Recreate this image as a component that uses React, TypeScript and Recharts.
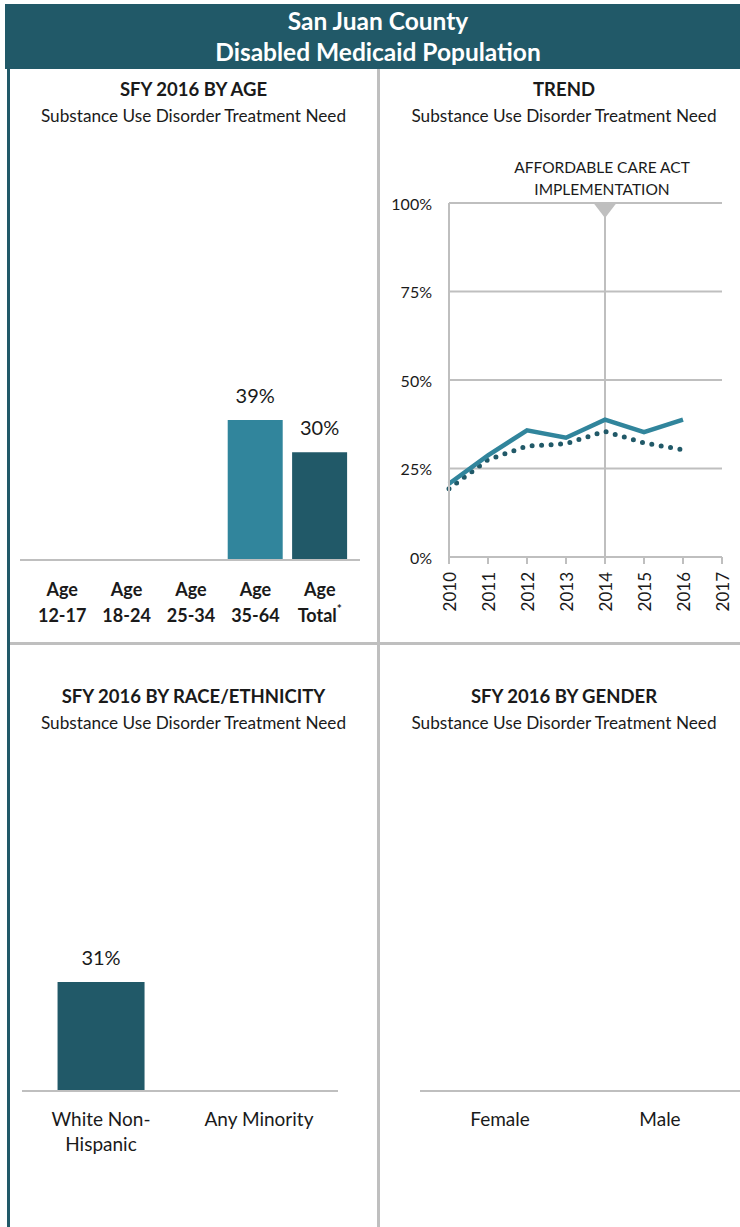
import React from 'react'
import {
  BarChart, Bar, LineChart, Line, XAxis, YAxis, CartesianGrid, ReferenceLine, LabelList, Cell,
} from 'recharts'

const FONT = 'Lato, "Open Sans", sans-serif'
const DARK = '#215968'
const TEAL = '#31859C'
const GRID = '#BFBFBF'
const INK = '#1a1a1a'

// by age
const ageGroups = ['Age 12-17', 'Age 18-24', 'Age 25-34', 'Age 35-64', 'Age Total']
const ageValues = [null, null, null, 0.39, 0.30]
const ageColors = [TEAL, TEAL, TEAL, TEAL, DARK]

// trend
const trendYears = [2010, 2011, 2012, 2013, 2014, 2015, 2016]
const trendAge3564 = [0.207, 0.287, 0.358, 0.337, 0.388, 0.353, 0.388]
const trendTotal = [0.193, 0.275, 0.313, 0.32, 0.355, 0.322, 0.303]
const yearTicks = [2010, 2011, 2012, 2013, 2014, 2015, 2016, 2017]
const pctTicks = [0, 0.25, 0.5, 0.75, 1]
const acaYear = 2014

// by race / ethnicity
const raceGroups = ['White Non-Hispanic', 'Any Minority']
const raceValues = [0.31, null]

// by gender
const genderGroups = ['Female', 'Male']
const genderValues = [null, null]

const ageData = ageGroups.map((g, i) => ({ name: g, value: ageValues[i] }))
const trendData = trendYears.map((y, i) => ({ year: y, age3564: trendAge3564[i], total: trendTotal[i] }))
const raceData = raceGroups.map((g, i) => ({ name: g, value: raceValues[i] }))
const genderData = genderGroups.map((g, i) => ({ name: g, value: genderValues[i] }))

const pct = (v: number) => `${Math.round(v * 100)}%`

const BarValue = (props: any) => {
  const { x, y, width, value } = props
  if (value == null) return null
  return (
    <text x={x + width / 2} y={y - 17} textAnchor="middle" fontFamily={FONT} fontSize={20} fill={INK}>
      {pct(value)}
    </text>
  )
}

const AgeTick = ({ x, y, payload }: any) => {
  const [first, second] = payload.value.split(' ')
  const isTotal = second === 'Total'
  return (
    <text x={x} y={y} textAnchor="middle" fontFamily={FONT} fontSize={18} fontWeight={700} fill={INK}>
      <tspan x={x} dy={28}>{first}</tspan>
      <tspan x={x} dy={26}>{second}</tspan>
      {isTotal && <tspan dy={-9} fontSize={12}>*</tspan>}
    </text>
  )
}

const WrapTick = ({ x, y, payload }: any) => {
  const label: string = payload.value
  const lines = label === 'White Non-Hispanic' ? ['White Non-', 'Hispanic'] : [label]
  return (
    <text x={x} y={y} textAnchor="middle" fontFamily={FONT} fontSize={19} fill={INK}>
      {lines.map((l, i) => (
        <tspan key={l} x={x} dy={i === 0 ? 27 : 25}>{l}</tspan>
      ))}
    </text>
  )
}

const YearTick = ({ x, y, payload }: any) => (
  <text
    x={x}
    y={y}
    transform={`rotate(-90, ${x}, ${y})`}
    textAnchor="end"
    dominantBaseline="central"
    fontFamily={FONT}
    fontSize={17}
    fill={INK}
  >
    {payload.value}
  </text>
)

const PctTick = ({ x, y, payload }: any) => (
  <text x={x} y={y} textAnchor="end" dominantBaseline="central" fontFamily={FONT} fontSize={16} fill={INK}>
    {pct(payload.value)}
  </text>
)

const AcaMarker = ({ viewBox }: any) => {
  if (!viewBox) return null
  const cx = viewBox.x
  const top = viewBox.y
  return (
    <g>
      <polygon points={`${cx - 11.5},${top} ${cx + 11.5},${top} ${cx},${top + 15}`} fill={GRID} />
      <text x={cx - 3} y={top - 30} textAnchor="middle" fontFamily={FONT} fontSize={15.5} fill={INK}>
        AFFORDABLE CARE ACT
      </text>
      <text x={cx - 3} y={top - 8} textAnchor="middle" fontFamily={FONT} fontSize={15.5} fill={INK}>
        IMPLEMENTATION
      </text>
    </g>
  )
}

const PanelTitle = ({ left, width, top, title }: { left: number; width: number; top: number; title: string }) => (
  <div style={{ position: 'absolute', left, width, top, textAlign: 'center', color: INK, fontFamily: FONT }}>
    <div style={{ fontSize: 18.5, fontWeight: 700, lineHeight: '26px' }}>{title}</div>
    <div style={{ fontSize: 17.2, lineHeight: '28px' }}>Substance Use Disorder Treatment Need</div>
  </div>
)

export default function App() {
  return (
    <div style={{ position: 'absolute', left: 0, top: 0, width: 740, height: 1227, background: '#fff', overflow: 'hidden' }}>
      {/* header band */}
      <div
        style={{
          position: 'absolute', left: 5, top: 4, width: 760, height: 65, background: DARK,
          color: '#fff', fontFamily: FONT, fontWeight: 700, fontSize: 24.5, lineHeight: '31px', textAlign: 'center',
        }}
      >
        <div style={{ width: 746, paddingTop: 1 }}>
          <div>San Juan County</div>
          <div>Disabled Medicaid Population</div>
        </div>
      </div>
      {/* borders */}
      <div style={{ position: 'absolute', left: 7, top: 69, width: 3, height: 1160, background: DARK }} />
      <div style={{ position: 'absolute', left: 377, top: 69, width: 3, height: 1160, background: GRID }} />
      <div style={{ position: 'absolute', left: 10, top: 642, width: 730, height: 3, background: GRID }} />

      <PanelTitle left={10} width={367} top={76} title="SFY 2016 BY AGE" />
      <PanelTitle left={380} width={368} top={76} title="TREND" />
      <PanelTitle left={10} width={367} top={683} title="SFY 2016 BY RACE/ETHNICITY" />
      <PanelTitle left={380} width={368} top={683} title="SFY 2016 BY GENDER" />

      {/* by age */}
      <div style={{ position: 'absolute', left: 0, top: 140 }}>
        <BarChart width={378} height={500} data={ageData} margin={{ top: 61, right: 18, left: 20, bottom: 0 }} barCategoryGap="7%">
          <XAxis
            dataKey="name"
            axisLine={{ stroke: GRID, strokeWidth: 2 }}
            tickLine={false}
            tick={<AgeTick />}
            height={80}
            interval={0}
            padding={{ left: 10, right: 8 }}
          />
          <YAxis hide domain={[0, 1]} />
          <Bar dataKey="value" isAnimationActive={false}>
            {ageData.map((d, i) => (
              <Cell key={d.name} fill={ageColors[i]} />
            ))}
            <LabelList dataKey="value" content={<BarValue />} />
          </Bar>
        </BarChart>
      </div>

      {/* trend */}
      <div style={{ position: 'absolute', left: 380, top: 140 }}>
        <LineChart width={360} height={490} data={trendData} margin={{ top: 63, right: 18, left: 19, bottom: 13 }}>
          <CartesianGrid vertical={false} stroke={GRID} strokeWidth={2} />
          <XAxis
            dataKey="year"
            type="number"
            domain={[2010, 2017]}
            ticks={yearTicks}
            interval={0}
            axisLine={{ stroke: GRID, strokeWidth: 2 }}
            tickLine={{ stroke: GRID, strokeWidth: 2 }}
            tickSize={7}
            tickMargin={8}
            tick={<YearTick />}
            height={60}
          />
          <YAxis
            domain={[0, 1]}
            ticks={pctTicks}
            width={50}
            axisLine={{ stroke: GRID, strokeWidth: 2 }}
            tickLine={false}
            tickSize={0}
            tickMargin={17}
            tick={<PctTick />}
          />
          <ReferenceLine x={acaYear} stroke={GRID} strokeWidth={2} label={<AcaMarker />} />
          <Line
            type="linear"
            dataKey="total"
            stroke={DARK}
            strokeWidth={5}
            strokeDasharray="0 9.5"
            strokeLinecap="round"
            dot={false}
            isAnimationActive={false}
          />
          <Line
            type="linear"
            dataKey="age3564"
            stroke={TEAL}
            strokeWidth={4.5}
            dot={false}
            isAnimationActive={false}
          />
        </LineChart>
      </div>

      {/* by race / ethnicity */}
      <div style={{ position: 'absolute', left: 0, top: 680 }}>
        <BarChart width={378} height={491} data={raceData} margin={{ top: 59, right: 40, left: 22, bottom: 0 }} barCategoryGap="22.5%">
          <XAxis
            dataKey="name"
            axisLine={{ stroke: GRID, strokeWidth: 2 }}
            tickLine={false}
            tick={<WrapTick />}
            height={80}
            interval={0}
          />
          <YAxis hide domain={[0, 1]} />
          <Bar dataKey="value" fill={DARK} isAnimationActive={false}>
            <LabelList dataKey="value" content={<BarValue />} />
          </Bar>
        </BarChart>
      </div>

      {/* by gender */}
      <div style={{ position: 'absolute', left: 380, top: 680 }}>
        <BarChart width={360} height={491} data={genderData} margin={{ top: 59, right: 0, left: 40, bottom: 0 }} barCategoryGap="22.5%">
          <XAxis
            dataKey="name"
            axisLine={{ stroke: GRID, strokeWidth: 2 }}
            tickLine={false}
            tick={<WrapTick />}
            height={80}
            interval={0}
          />
          <YAxis hide domain={[0, 1]} />
          <Bar dataKey="value" fill={DARK} isAnimationActive={false}>
            <LabelList dataKey="value" content={<BarValue />} />
          </Bar>
        </BarChart>
      </div>
    </div>
  )
}
